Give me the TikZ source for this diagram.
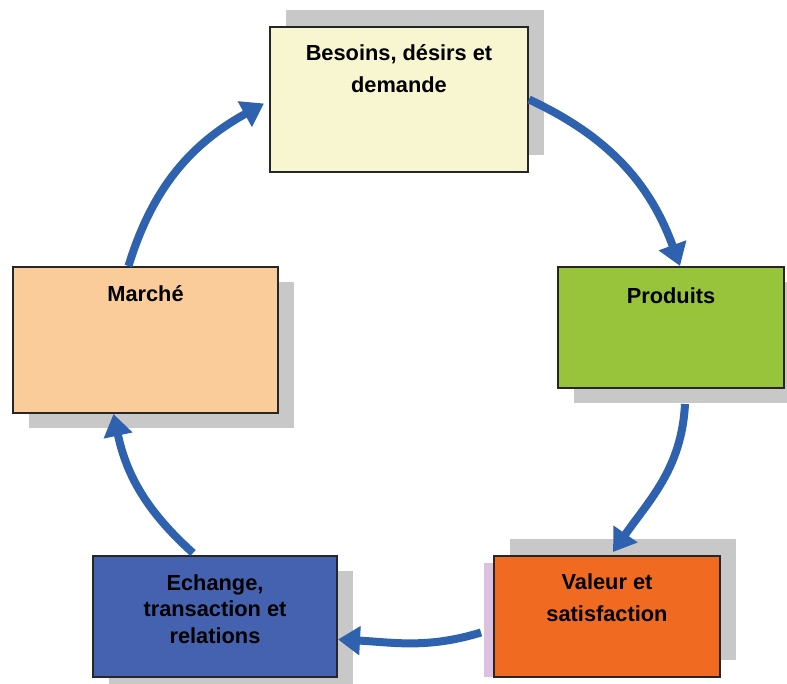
\documentclass[tikz,border=0pt]{standalone}
\usepackage{fontspec}
\setmainfont{Liberation Sans}
\usepackage{tikz}
\usetikzlibrary{positioning}
\usetikzlibrary{calc}
\usetikzlibrary{shadows}
\usetikzlibrary{arrows.meta}

\definecolor{jaune}{HTML}{F8F6D0}
\definecolor{peche}{HTML}{F9CC99}
\definecolor{vert}{HTML}{98C43C}
\definecolor{orange}{HTML}{F16A21}
\definecolor{bleuboite}{HTML}{4562B0}
\definecolor{bleufleche}{HTML}{2E62AE}
\definecolor{ombre}{HTML}{C8C8C8}
\definecolor{lavande}{HTML}{DCC2E0}

\tikzset{
    boite/.style={draw=black!85, line width=0.5mm, rectangle, inner sep=0pt},
    ombrehaut/.style={drop shadow={shadow xshift=4mm, shadow yshift=4.25mm, fill=ombre, opacity=1}},
    ombrebas/.style={drop shadow={shadow xshift=4mm, shadow yshift=-3.75mm, fill=ombre, opacity=1}},
    texte/.style={font=\bfseries\fontsize{15.5}{23}\selectfont, align=center, inner sep=0pt},
    fleche/.style={draw=bleufleche, line width=2mm, -{Triangle[width=7mm,length=5.5mm]}}
}

\begin{document}
\begin{tikzpicture}[x=0.25mm, y=0.25mm]
            \useasboundingbox (0,0) rectangle (787,684);

            \coordinate (cB) at (399,584.5);
            \coordinate (cM) at (145.5,344);
            \coordinate (cP) at (671,356.5);
            \coordinate (cV) at (607,67.5);
            \coordinate (cE) at (215,67.5);

            \fill[lavande] (484,7) rectangle (494,121);

            \node[boite, ombrehaut, fill=jaune, minimum width=64.5mm, minimum height=36.25mm] (besoins) at (cB) {};
            \node[boite, ombrebas, fill=peche, minimum width=66.25mm, minimum height=36.5mm] (marche) at (cM) {};
            \node[boite, ombrebas, fill=vert, minimum width=56.5mm, minimum height=30.25mm] (produits) at (cP) {};
            \node[boite, ombrehaut, fill=orange, minimum width=56.5mm, minimum height=30.25mm] (valeur) at (cV) {};
            \node[boite, ombrebas, fill=bleuboite, minimum width=61mm, minimum height=30.25mm] (echange) at (cE) {};

            \node[texte, below=4.5mm of besoins.north] (besoinsT) {Besoins, désirs et\\demande};
            \node[texte, below=4.75mm of marche.north] (marcheT) {Marché};
            \node[texte, below=5.25mm of produits.north] (produitsT) {Produits};
            \node[texte, below=4.5mm of valeur.north] (valeurT) {Valeur et\\satisfaction};
            \node[texte, font=\bfseries\fontsize{15.5}{19}\selectfont, below=4.75mm of echange.north] (echangeT) {Echange,\\transaction et\\relations};

            \draw[fleche] (besoins.east) to[out=-25,in=110] ([xshift=2.25mm]produits.north);
            \draw[fleche] ([shift={(3.5mm,-3.75mm)}]produits.south) to[out=-93,in=55] ([shift={(1.5mm,0.75mm)}]valeur.north);
            \draw[fleche] ([shift={(-3mm,-4mm)}]valeur.west) to[out=197,in=-3] ([yshift=-5.75mm]echange.east);
            \draw[fleche] ([shift={(-5.5mm,0.5mm)}]echange.north) to[out=138,in=-78] ([xshift=-8mm]marche.south);
            \draw[fleche] ([xshift=-4.25mm]marche.north) to[out=73,in=209] ([shift={(-1.25mm,-1mm)}]besoins.west);
        \end{tikzpicture}
\end{document}
